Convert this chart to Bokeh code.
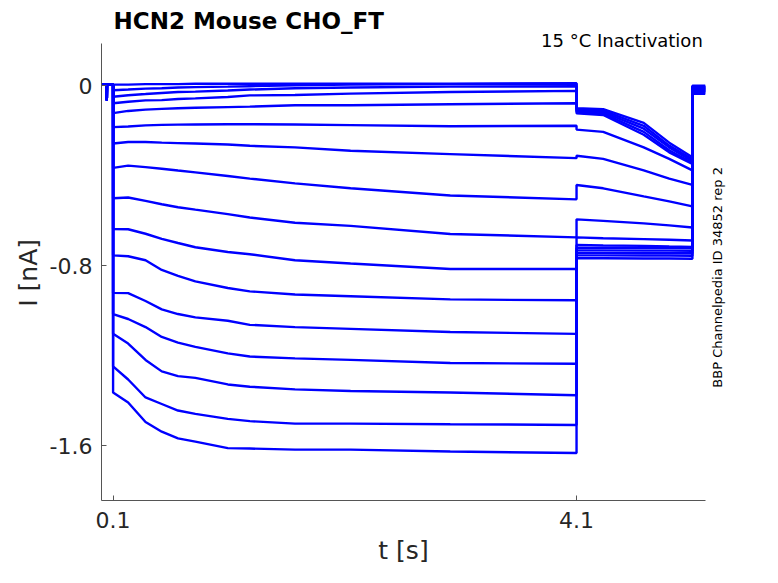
from bokeh.plotting import figure
from bokeh.models import Range1d, FixedTicker, Label, ColumnDataSource
from bokeh.embed import file_html
from bokeh.resources import INLINE

# ---- data (current in nA, time in s) ----
x_ticks = [0.1, 4.1]
x_tick_labels = ["0.1", "4.1"]
y_ticks = [0.0, -0.8, -1.6]
y_tick_labels = ["0", "-0.8", "-1.6"]

# holding segment (shared by all sweeps), with the brief artefact
t_hold = [0.0, 0.045, 0.046, 0.047, 0.1]
i_hold = [0.006, 0.006, -0.063, 0.006, 0.006]

# test-pulse segment
t_test = [0.1, 0.23, 0.38, 0.52, 0.66, 0.81, 1.09, 1.28, 1.67, 2.15, 3.01, 4.1]
i_test = [
    [0.006, 0.006, 0.008, 0.008, 0.008, 0.010, 0.010, 0.010, 0.010, 0.010, 0.010, 0.012],
    [-0.019, -0.016, -0.012, -0.010, -0.007, -0.005, -0.003, -0.001, 0.003, 0.006, 0.008, 0.010],
    [-0.048, -0.041, -0.036, -0.031, -0.027, -0.025, -0.020, -0.016, -0.010, -0.007, -0.003, -0.001],
    [-0.077, -0.070, -0.064, -0.063, -0.058, -0.055, -0.049, -0.042, -0.040, -0.034, -0.027, -0.022],
    [-0.121, -0.111, -0.105, -0.102, -0.099, -0.097, -0.094, -0.092, -0.086, -0.086, -0.081, -0.077],
    [-0.183, -0.180, -0.175, -0.173, -0.172, -0.171, -0.170, -0.170, -0.171, -0.174, -0.179, -0.177],
    [-0.256, -0.249, -0.249, -0.252, -0.254, -0.256, -0.260, -0.266, -0.273, -0.288, -0.303, -0.321],
    [-0.364, -0.354, -0.361, -0.368, -0.376, -0.384, -0.400, -0.412, -0.433, -0.455, -0.487, -0.504],
    [-0.499, -0.496, -0.511, -0.526, -0.539, -0.550, -0.570, -0.585, -0.608, -0.622, -0.658, -0.673],
    [-0.636, -0.637, -0.657, -0.680, -0.698, -0.717, -0.738, -0.748, -0.775, -0.789, -0.814, -0.814],
    [-0.753, -0.757, -0.775, -0.818, -0.844, -0.869, -0.898, -0.913, -0.927, -0.935, -0.949, -0.953],
    [-0.920, -0.921, -0.956, -0.993, -1.014, -1.029, -1.044, -1.062, -1.072, -1.080, -1.094, -1.102],
    [-1.014, -1.036, -1.072, -1.116, -1.141, -1.160, -1.189, -1.203, -1.211, -1.218, -1.232, -1.235],
    [-1.102, -1.145, -1.218, -1.269, -1.290, -1.298, -1.327, -1.337, -1.349, -1.356, -1.363, -1.375],
    [-1.247, -1.305, -1.385, -1.414, -1.443, -1.458, -1.480, -1.490, -1.501, -1.501, -1.504, -1.507],
    [-1.363, -1.407, -1.494, -1.537, -1.567, -1.581, -1.610, -1.612, -1.617, -1.617, -1.625, -1.632],
]

# tail segment
t_tail = [4.1, 4.33, 4.68, 4.9, 5.1]
i_tail = [
    [-0.099, -0.103, -0.164, -0.252, -0.317],
    [-0.103, -0.110, -0.177, -0.265, -0.326],
    [-0.108, -0.116, -0.190, -0.273, -0.334],
    [-0.114, -0.123, -0.204, -0.286, -0.343],
    [-0.121, -0.129, -0.217, -0.295, -0.347],
    [-0.194, -0.204, -0.273, -0.324, -0.375],
    [-0.310, -0.324, -0.375, -0.412, -0.440],
    [-0.440, -0.455, -0.491, -0.513, -0.535],
    [-0.593, -0.600, -0.611, -0.620, -0.629],
    [-0.673, -0.677, -0.681, -0.684, -0.687],
    [-0.707, -0.709, -0.711, -0.714, -0.716],
    [-0.720, -0.720, -0.721, -0.721, -0.722],
    [-0.731, -0.731, -0.732, -0.732, -0.733],
    [-0.742, -0.742, -0.743, -0.743, -0.744],
    [-0.753, -0.753, -0.754, -0.754, -0.755],
    [-0.766, -0.766, -0.767, -0.767, -0.768],
]

# return to holding
t_post = [5.1, 5.213]
i_post = [0.001, -0.002, -0.004, -0.006, -0.008, -0.010, -0.012, -0.014,
          -0.016, -0.018, -0.020, -0.022, -0.024, -0.027, -0.030, -0.035]

# axis extents of the original plot
x_lim = (0.0, 5.213)
y_lim = (-1.843, 0.189)

# ---- build the sweeps ----
xs, ys = [], []
for k in range(len(i_test)):
    xs.append(t_hold + t_test + t_tail + t_post)
    ys.append(i_hold + i_test[k] + i_tail[k] + [i_post[k], i_post[k]])
src = ColumnDataSource(dict(xs=xs, ys=ys))

FONT = "DejaVu Sans"
DARK = "#262626"
AXC = "#555555"

# the frame reaches up to the canvas top so the header texts can sit in it
p = figure(width=762, height=567, output_backend="svg", toolbar_location=None,
           x_range=Range1d(*x_lim), y_range=Range1d(y_lim[0], 0.380),
           min_border_left=101, min_border_right=57, min_border_top=0,
           min_border_bottom=66, background_fill_color="white",
           border_fill_color="white")
p.title.visible = False

p.multi_line(xs="xs", ys="ys", source=src, line_color="#0000ff", line_width=2.4)

p.grid.visible = False
p.outline_line_color = None

for ax in (p.xaxis[0], p.yaxis[0]):
    ax.axis_line_color = AXC
    ax.major_tick_line_color = AXC
    ax.major_tick_in = 5
    ax.major_tick_out = 0
    ax.minor_tick_line_color = None
    ax.major_label_text_font = FONT
    ax.major_label_text_font_size = "22px"
    ax.major_label_text_color = DARK
    ax.axis_label_text_font = FONT
    ax.axis_label_text_font_size = "25px"
    ax.axis_label_text_font_style = "normal"
    ax.axis_label_text_color = DARK

p.xaxis.bounds = x_lim
p.xaxis.ticker = FixedTicker(ticks=x_ticks)
p.xaxis.major_label_overrides = dict(zip(x_ticks, x_tick_labels))
p.xaxis.axis_label = "t [s]"
p.xaxis.major_label_standoff = 11
p.xaxis.axis_label_standoff = 5

p.yaxis.bounds = y_lim
p.yaxis.ticker = FixedTicker(ticks=y_ticks)
p.yaxis.major_label_overrides = dict(zip(y_ticks, y_tick_labels))
p.yaxis.major_label_standoff = 9

# y-axis label, placed in the left panel next to the axis
p.add_layout(Label(x=-0.634, y=-0.831, text="I [nA]", angle=1.5708,
                   text_align="center", text_baseline="middle",
                   text_font=FONT, text_font_size="25px", text_color=DARK), "left")

p.add_layout(Label(x=0.104, y=0.290, text="HCN2  Mouse  CHO_FT",
                   text_align="left", text_baseline="alphabetic",
                   text_font=FONT, text_font_size="23px",
                   text_font_style="bold", text_color="black"))

p.add_layout(Label(x=5.239, y=0.200, text="15 °C  Inactivation",
                   text_align="right", text_baseline="alphabetic",
                   text_font=FONT, text_font_size="18px", text_color="black"))

p.add_layout(Label(x=5.317, y=-0.851, text="BBP Channelpedia ID 34852 rep 2",
                   angle=1.5708, text_align="center", text_baseline="middle",
                   text_font=FONT, text_font_size="13px", text_color="black"), "right")

open("out.html", "w").write(file_html(p, INLINE))
